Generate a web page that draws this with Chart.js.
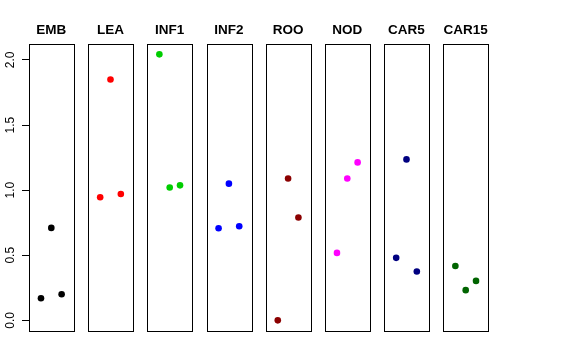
<!DOCTYPE html>
<html>
<head>
<meta charset="utf-8">
<script src="https://cdn.jsdelivr.net/npm/chart.js@4.4.1/dist/chart.umd.min.js"></script>
<style>
  html, body { margin: 0; padding: 0; background: #fff; }
  #wrap { position: relative; width: 576px; height: 360px; }
  #wrap canvas { position: absolute; left: 0; top: 0; }
</style>
</head>
<body>
<div id="wrap"></div>
<script>
// panel names and colours
const panels = ['EMB', 'LEA', 'INF1', 'INF2', 'ROO', 'NOD', 'CAR5', 'CAR15'];
const colors = ['#000000', '#ff0000', '#00cd00', '#0000ff', '#8b0000', '#ff00ff', '#000080', '#006400'];

// three replicates per panel, plotted at x = 1, 2, 3
const xPos = [1, 2, 3];
const EMB = [0.17, 0.71, 0.20];
const LEA = [0.945, 1.85, 0.97];
const INF1 = [2.043, 1.02, 1.037];
const INF2 = [0.707, 1.05, 0.723];
const ROO = [0.0, 1.09, 0.79];
const NOD = [0.518, 1.09, 1.213];
const CAR5 = [0.48, 1.236, 0.375];
const CAR15 = [0.418, 0.232, 0.303];
const values = [EMB, LEA, INF1, INF2, ROO, NOD, CAR5, CAR15];

const yTicks = [0, 0.5, 1, 1.5, 2];

const W = 576, H = 360;
const font = 'Liberation Sans, Arial, Helvetica, sans-serif';

// box around each panel
const boxPlugin = {
  id: 'box',
  afterDraw(chart) {
    const a = chart.chartArea;
    const ctx = chart.ctx;
    ctx.save();
    ctx.strokeStyle = '#000';
    ctx.lineWidth = 1;
    ctx.strokeRect(Math.round(a.left) + 0.5, Math.round(a.top) + 0.5,
      Math.round(a.right - a.left), Math.round(a.bottom - a.top));
    ctx.restore();
  }
};

const wrap = document.getElementById('wrap');

panels.forEach((name, i) => {
  const left = 29 + 59.2 * i;
  const right = left + 44.6;
  const first = i === 0;

  const canvas = document.createElement('canvas');
  canvas.width = W;
  canvas.height = H;
  wrap.appendChild(canvas);

  new Chart(canvas.getContext('2d'), {
    type: 'scatter',
    data: {
      datasets: [{
        data: xPos.map((x, k) => ({ x: x, y: values[i][k] })),
        backgroundColor: colors[i],
        borderWidth: 0,
        pointRadius: 3.3
      }]
    },
    options: {
      responsive: false,
      animation: false,
      devicePixelRatio: 1,
      layout: {
        padding: { left: first ? 0 : left, right: W - right, top: 0, bottom: H - 331 }
      },
      plugins: {
        legend: { display: false },
        tooltip: { enabled: false },
        title: {
          display: true,
          text: name,
          fullSize: false,
          color: '#000',
          font: { family: font, size: 13.5, weight: 'bold' },
          padding: { top: 22, bottom: 5.5 }
        }
      },
      scales: {
        x: {
          type: 'linear',
          display: false,
          min: -0.16,
          max: 4.16
        },
        y: {
          type: 'linear',
          display: first,
          min: -0.0817,
          max: 2.1247,
          afterFit(axis) { if (first) axis.width = 29; },
          afterBuildTicks(axis) { axis.ticks = yTicks.map(v => ({ value: v })); },
          border: { display: false },
          grid: {
            display: true,
            drawOnChartArea: false,
            drawTicks: true,
            tickLength: 7,
            color: '#000',
            lineWidth: 1
          },
          ticks: {
            minRotation: 90,
            maxRotation: 90,
            crossAlign: 'center',
            padding: 3,
            color: '#000',
            font: { family: font, size: 12 },
            callback: v => v.toFixed(1)
          }
        }
      }
    },
    plugins: [boxPlugin]
  });
});
</script>
</body>
</html>
